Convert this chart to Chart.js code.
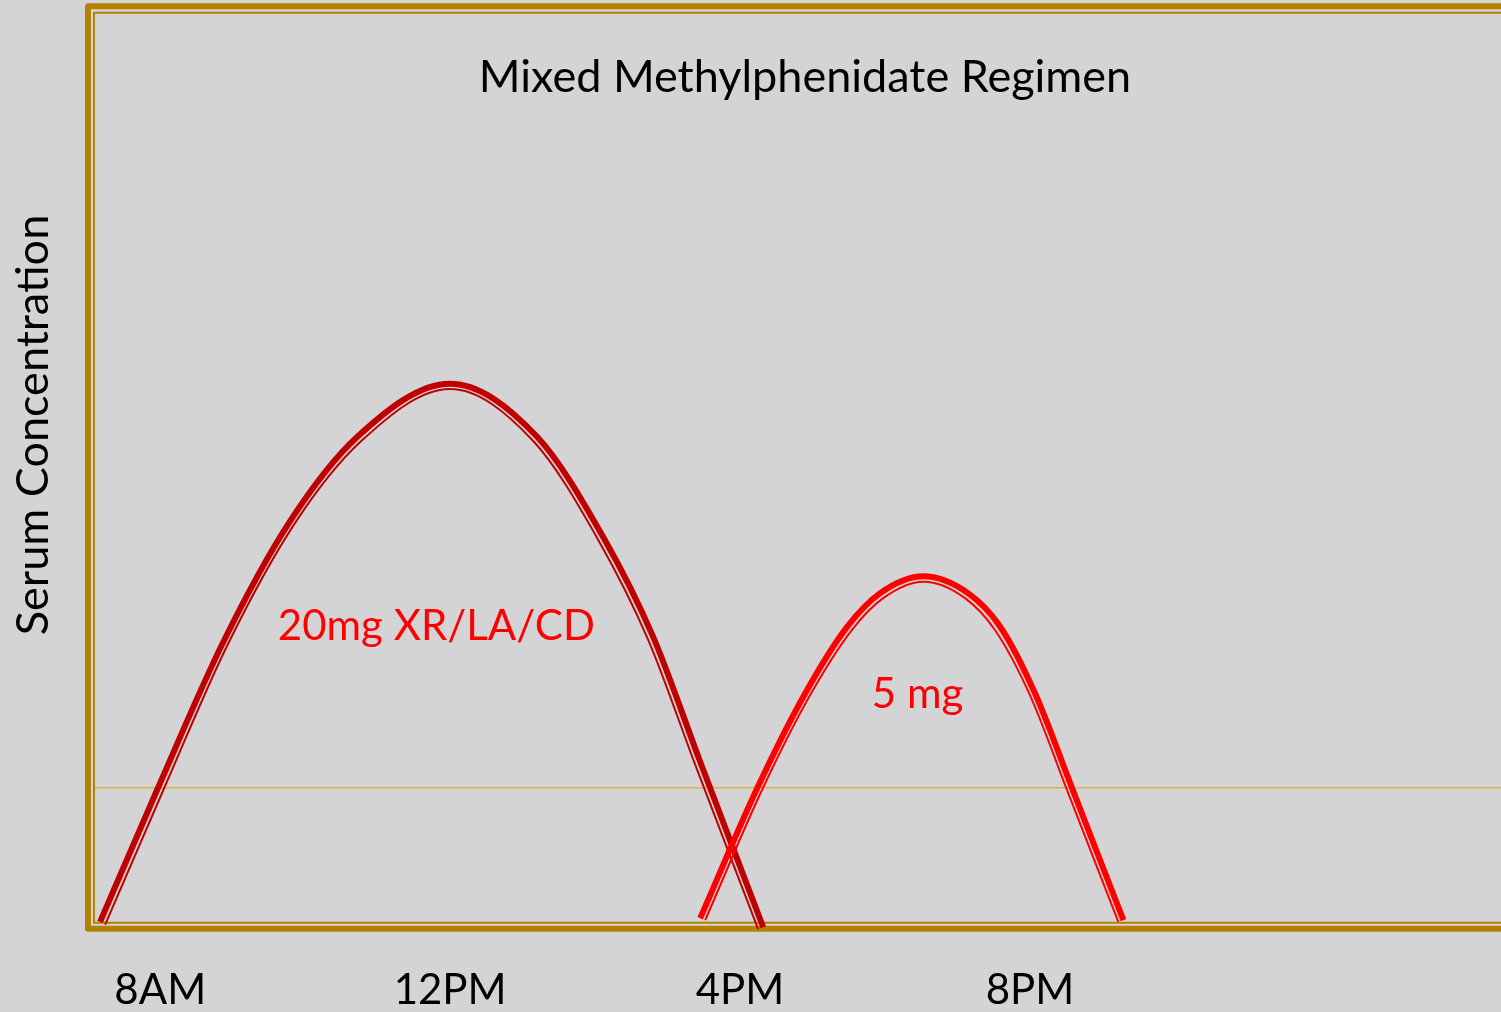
<!DOCTYPE html>
<html>
<head>
<meta charset="utf-8">
<script src="https://cdn.jsdelivr.net/npm/chart.js@4.4.0/dist/chart.umd.min.js"></script>
<style>
  body { margin: 0; background: #d4d4d6; overflow: hidden; }
  #wrap { width: 1501px; height: 1012px; position: relative; }
</style>
</head>
<body>
<div id="wrap"><canvas id="regimen"></canvas></div>
<script>
// x = hour of day, y = serum concentration (arbitrary units)
const tickHours = [8, 12, 16, 20]
const tickLabels = ['8AM', '12PM', '4PM', '8PM']

// 20mg XR/LA/CD curve (heavy outer stroke + thin inner stroke)
const xrHours = [7.17, 7.97, 8.87, 9.79, 10.72, 12.0, 13.2, 14.11, 14.8, 15.45, 16.32]
const xrConc = [-0.1, 14.8, 31.0, 44.4, 53.8, 59.7, 53.8, 42.7, 31.6, 17.7, -0.7]
const xrInnerHours = [7.24, 8.04, 8.93, 9.85, 10.77, 12.0, 13.15, 14.04, 14.73, 15.38, 16.25]
const xrInnerConc = [-0.4, 14.5, 30.7, 44.1, 53.3, 59.1, 53.3, 42.4, 31.3, 17.4, -0.9]

// 5 mg immediate release curve
const irHours = [15.45, 16.24, 16.9, 17.48, 17.93, 18.53, 19.15, 19.59, 20.07, 20.58, 21.29]
const irConc = [0.3, 14.8, 25.3, 32.7, 36.4, 38.3, 36.4, 32.7, 25.3, 14.8, 0.1]
const irInnerHours = [15.52, 16.3, 16.96, 17.54, 17.98, 18.53, 19.1, 19.52, 20.0, 20.51, 21.22]
const irInnerConc = [0.1, 14.5, 25.0, 32.3, 35.9, 37.7, 35.9, 32.3, 25.1, 14.6, -0.1]

const threshold = 14.8

const doseLabels = ['20mg XR/LA/CD', '5 mg']
const doseLabelHours = [11.81, 18.45]
const doseLabelConc = [31.2, 23.7]

const gold = '#b38200'
const darkRed = '#c00000'
const brightRed = '#ff0000'
const font = 'Lato, "Open Sans", sans-serif'

function points(xs, ys) {
  return xs.map((x, i) => ({ x: x, y: ys[i] }))
}

function curve(xs, ys, color, width) {
  return {
    data: points(xs, ys),
    borderColor: color,
    borderWidth: width,
    pointRadius: 0,
    cubicInterpolationMode: 'monotone',
    clip: false,
    fill: false
  }
}

const framePlugin = {
  id: 'frame',
  beforeDatasetsDraw(chart) {
    const { ctx, chartArea: a, scales } = chart
    const far = chart.width + 20
    ctx.save()
    ctx.strokeStyle = gold
    ctx.lineJoin = 'round'
    // outer heavy frame
    ctx.lineWidth = 6
    ctx.beginPath()
    ctx.moveTo(far, a.top - 5.7)
    ctx.lineTo(a.left - 7, a.top - 5.7)
    ctx.lineTo(a.left - 7, a.bottom + 7.7)
    ctx.lineTo(far, a.bottom + 7.7)
    ctx.stroke()
    // inner thin frame
    ctx.lineWidth = 2
    ctx.lineJoin = 'miter'
    ctx.beginPath()
    ctx.moveTo(far, a.top + 0.7)
    ctx.lineTo(a.left - 1, a.top + 0.7)
    ctx.lineTo(a.left - 1, a.bottom + 1.8)
    ctx.lineTo(far, a.bottom + 1.8)
    ctx.stroke()
    // threshold line
    const ty = scales.y.getPixelForValue(threshold)
    ctx.strokeStyle = '#ddb043'
    ctx.lineWidth = 1.5
    ctx.beginPath()
    ctx.moveTo(a.left, ty)
    ctx.lineTo(far, ty)
    ctx.stroke()
    ctx.restore()
  },
  afterDatasetsDraw(chart) {
    const { ctx, scales } = chart
    ctx.save()
    ctx.fillStyle = '#000'
    ctx.textAlign = 'center'
    ctx.textBaseline = 'alphabetic'
    ctx.font = '45px ' + font
    ctx.fillText('Mixed Methylphenidate Regimen', 805, 92)

    ctx.fillStyle = brightRed
    ctx.font = '42px ' + font
    doseLabels.forEach((t, i) => {
      ctx.fillText(t, scales.x.getPixelForValue(doseLabelHours[i]), scales.y.getPixelForValue(doseLabelConc[i]))
    })

    // y axis title
    ctx.fillStyle = '#000'
    ctx.font = '45px ' + font
    ctx.translate(33, 425)
    ctx.rotate(-Math.PI / 2)
    ctx.textBaseline = 'middle'
    ctx.fillText('Serum Concentration', 0, 0)
    ctx.restore()
  }
}

const config = {
  type: 'line',
  data: {
    datasets: [
      curve(irHours, irConc, brightRed, 6),
      curve(irInnerHours, irInnerConc, brightRed, 2),
      curve(xrHours, xrConc, darkRed, 6),
      curve(xrInnerHours, xrInnerConc, darkRed, 2)
    ]
  },
  options: {
    responsive: true,
    maintainAspectRatio: false,
    animation: false,
    layout: { padding: { left: 95, top: 12, right: 0, bottom: 0 } },
    plugins: {
      legend: { display: false },
      tooltip: { enabled: false }
    },
    scales: {
      x: {
        type: 'linear',
        min: 7.1,
        max: 26.5,
        grid: { display: false, drawTicks: false },
        border: { display: false },
        afterBuildTicks: (scale) => {
          scale.ticks = tickHours.map(v => ({ value: v }))
        },
        afterFit: (scale) => {
          scale.height = 91
        },
        ticks: {
          autoSkip: false,
          maxRotation: 0,
          padding: 44,
          color: '#000',
          font: { family: font, size: 42 },
          callback: (value) => tickLabels[tickHours.indexOf(value)]
        }
      },
      y: {
        display: false,
        min: 0,
        max: 101
      }
    }
  },
  plugins: [framePlugin]
}

let chart = new Chart(document.getElementById('regimen'), config)
</script>
</body>
</html>
